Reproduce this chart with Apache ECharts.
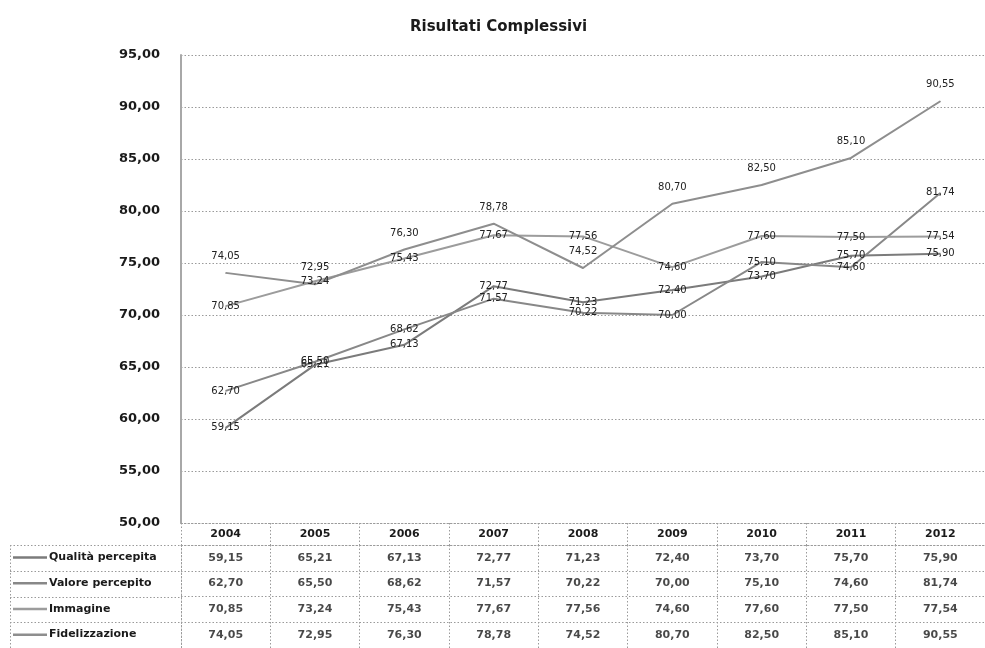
<!DOCTYPE html>
<html>
<head>
<meta charset="utf-8">
<script src="https://cdn.jsdelivr.net/npm/echarts@6/dist/echarts.min.js"></script>
<style>
html,body{margin:0;padding:0;background:#fff;}
#chart{width:985px;height:648px;}
</style>
</head>
<body>
<div id="chart"></div>
<script>
// ---- data ----
var years = ['2004','2005','2006','2007','2008','2009','2010','2011','2012'];
var seriesNames = ['Qualità percepita','Valore percepito','Immagine','Fidelizzazione'];
var qualita = [59.15, 65.21, 67.13, 72.77, 71.23, 72.40, 73.70, 75.70, 75.90];
var valore = [62.70, 65.50, 68.62, 71.57, 70.22, 70.00, 75.10, 74.60, 81.74];
var immagine = [70.85, 73.24, 75.43, 77.67, 77.56, 74.60, 77.60, 77.50, 77.54];
var fidelizzazione = [74.05, 72.95, 76.30, 78.78, 74.52, 80.70, 82.50, 85.10, 90.55];
var yMin = 50, yMax = 95, yStep = 5;

// ---- style ----
var FONT = 'DejaVu Sans';
var lineColors = ['#7b7b7b', '#888888', '#9c9c9c', '#8e8e8e'];
var labelPos = ['inside', 'inside', 'inside', 'top'];
var allValues = [qualita, valore, immagine, fidelizzazione];
var dotted = {color: '#9a9a9a', type: [1.5, 2], width: 1};

function fmt(v) { return v.toFixed(2).replace('.', ','); }

var W = 985, H = 648;
var gridLeft = 181, gridRight = -9;
var plotTop = 55, plotBottom = 523;
var headerBottom = 545;
var tableBottom = 648;
var nRows = seriesNames.length;
var rowH = (tableBottom - headerBottom) / nRows;
var labelColLeft = 10;

var series = [];
allValues.forEach(function (vals, k) {
  series.push({
    name: seriesNames[k],
    type: 'line',
    xAxisIndex: 0, yAxisIndex: 0,
    data: vals,
    symbol: 'circle',
    symbolSize: 1,
    showSymbol: true,
    itemStyle: {color: lineColors[k]},
    lineStyle: {color: lineColors[k], width: 2},
    label: {
      show: true,
      position: labelPos[k],
      distance: 11,
      fontFamily: FONT,
      fontSize: 10,
      color: '#222',
      formatter: function (p) { return fmt(p.value); }
    },
    emphasis: {disabled: true},
    z: 3
  });
  series.push({
    name: 'tab' + k,
    type: 'scatter',
    xAxisIndex: 1, yAxisIndex: 1,
    symbolSize: 0,
    itemStyle: {color: '#1a1a1a'},
    data: vals.map(function (v, i) { return [i, k, v]; }),
    label: {
      show: true,
      position: 'inside',
      fontFamily: FONT,
      fontSize: 11,
      fontWeight: 'bold',
      color: '#1a1a1a',
      formatter: function (p) { return fmt(p.value[2]); }
    },
    emphasis: {disabled: true},
    silent: true
  });
});

// one legend per table row
var legends = seriesNames.map(function (name, k) {
  return {
    data: [name],
    orient: 'horizontal',
    left: labelColLeft + 3,
    top: headerBottom + k * rowH + (rowH - 14) / 2 + 1,
    padding: 0,
    itemWidth: 34,
    itemHeight: 14,
    itemGap: 2,
    icon: 'path://M0,6 L34,6 L34,8.5 L0,8.5 Z',
    selectedMode: false,
    textStyle: {fontFamily: FONT, fontSize: 11, fontWeight: 'bold', color: '#1a1a1a', padding: [3, 0, 0, -3]}
  };
});

// decoration lines for the label column of the data table
var graphics = [];
for (var r = 0; r <= nRows; r++) {
  var y = Math.round(headerBottom + r * rowH) + 0.5;
  graphics.push({type: 'line', shape: {x1: labelColLeft, y1: y, x2: gridLeft, y2: y},
    style: {stroke: '#9a9a9a', lineDash: [1.5, 2], lineWidth: 1}, silent: true});
}
graphics.push({type: 'line', shape: {x1: labelColLeft + 0.5, y1: headerBottom, x2: labelColLeft + 0.5, y2: tableBottom},
  style: {stroke: '#9a9a9a', lineDash: [1.5, 2], lineWidth: 1}, silent: true});

var chart = echarts.init(document.getElementById('chart'), null, {renderer: 'canvas'});
chart.setOption({
  backgroundColor: '#fff',
  animation: false,
  title: {
    text: 'Risultati Complessivi',
    left: 405, top: 15,
    textStyle: {fontFamily: FONT, fontSize: 15, fontWeight: 'bold', color: '#1a1a1a'}
  },
  legend: legends,
  grid: [
    {left: gridLeft, right: gridRight, top: plotTop, bottom: H - plotBottom},
    {left: gridLeft, right: gridRight, top: headerBottom, bottom: H - tableBottom}
  ],
  xAxis: [
    {
      type: 'category', gridIndex: 0, data: years, boundaryGap: true,
      axisLine: {show: true, lineStyle: dotted},
      axisTick: {show: true, interval: 0, length: headerBottom - plotBottom, lineStyle: dotted},
      axisLabel: {show: true, interval: 0, margin: 6, fontFamily: FONT, fontSize: 11, fontWeight: 'bold', color: '#1a1a1a'},
      splitLine: {show: false}
    },
    {
      type: 'category', gridIndex: 1, data: years, boundaryGap: true, position: 'top',
      axisLine: {show: true, lineStyle: dotted},
      axisTick: {show: false},
      axisLabel: {show: false},
      splitLine: {show: true, interval: 0, lineStyle: dotted}
    }
  ],
  yAxis: [
    {
      type: 'value', gridIndex: 0, min: yMin, max: yMax, interval: yStep,
      axisLine: {show: true, lineStyle: {color: '#a8a8a8', width: 2}},
      axisTick: {show: false},
      axisLabel: {margin: 21, fontFamily: FONT, fontSize: 13, fontWeight: 'bold', color: '#1a1a1a',
        formatter: function (v) { return fmt(v); }},
      splitLine: {show: true, lineStyle: dotted}
    },
    {
      type: 'category', gridIndex: 1, data: seriesNames, inverse: true, boundaryGap: true,
      axisLine: {show: true, lineStyle: dotted},
      axisTick: {show: false},
      axisLabel: {show: false},
      splitLine: {show: true, interval: 0, lineStyle: dotted}
    }
  ],
  graphic: graphics,
  series: series
});
</script>
</body>
</html>
